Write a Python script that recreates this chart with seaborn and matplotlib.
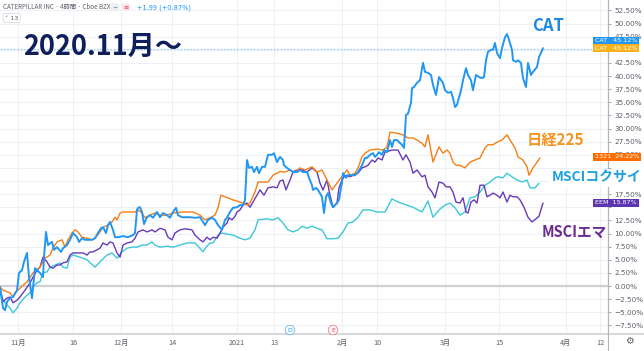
import numpy as np
import pandas as pd
import matplotlib
matplotlib.use("Agg")
import matplotlib.pyplot as plt
import seaborn as sns
from matplotlib.lines import Line2D

# ---------------- data (bar index, % change) ----------------
cat_t = [0,3,5,7,10,13,17,19,22,24,27,29,32,35,37,40,43,44,46,48,52,54,57,61,63,67,70,73,77,79,
         82,85,88,92,95,98,101,103,106,108,110,113,115,118,123,128,133,135,137,138,140,142,144,147,150,153,157,160,163,167,
         170,173,176,178,182,185,190,195,200,205,208,212,215,218,222,225,227,230,233,237,240,243,245,247,249,252,254,257,259,262,
         265,268,272,274,277,280,283,284,287,290,293,297,300,303,307,309,312,313,316,318,322,324,326,328,331,333,337,339,342,343,
         346,348,352,355,358,362,365,367,370,373,375,377,379,382,384,387,390,392,394,397,399,402,404,406,408,411,412,414,417,420,
         423,425,428,431,433,436,439,443,445,448,451,453,455,457,461,463,466,468,471,473,476,479,482,484,486,488,491,493,495,497,
         500,502,505,507,509,512,513,516,518,521,523,526,528,531,533,537,539,543]
cat_v = [-0.2,-4.2,-4.6,-3.0,-2.3,-2.1,-0.8,2.5,3.0,4.6,6.3,1.7,-2.3,3.4,3.0,2.5,1.7,5.5,10.3,7.8,
         8.4,6.9,7.4,6.5,7.2,7.8,8.8,10.1,9.3,8.4,9.1,8.8,8.8,8.8,9.1,10.1,11.0,11.2,10.1,11.6,
         12.2,10.7,9.3,9.3,9.5,9.3,9.7,10.1,14.5,14.9,15.0,14.1,11.8,13.1,13.5,13.0,14.1,13.1,13.9,13.5,
         13.0,14.1,14.9,13.5,13.1,13.1,13.1,13.0,13.1,11.6,12.6,13.0,12.6,11.6,10.7,12.6,13.0,14.1,14.9,15.0,
         15.4,15.4,16.4,24.0,22.5,22.7,21.7,22.7,21.5,22.7,22.7,25.0,25.0,25.3,23.6,24.6,24.0,23.0,22.5,22.1,
         21.7,21.7,22.1,21.7,21.7,20.6,19.2,18.3,18.7,18.3,17.0,13.9,17.0,17.7,15.8,15.0,15.8,16.4,19.8,21.5,
         20.6,21.1,21.1,21.1,21.7,23.0,24.4,24.4,25.0,25.3,24.6,25.0,25.5,25.0,25.9,25.5,27.8,26.5,27.8,27.8,
         27.4,26.9,26.3,32.6,32.8,34.9,37.7,37.9,38.7,39.2,42.5,40.8,40.6,40.2,38.3,36.4,39.8,38.7,37.3,36.8,
         37.0,35.8,34.1,34.5,37.3,39.2,41.5,40.2,39.2,37.3,40.2,39.8,39.6,39.8,43.0,44.6,45.0,45.0,46.3,44.4,
         43.4,45.3,47.4,48.0,46.9,45.0,43.0,42.7,43.0,42.5,39.6,37.9,42.5,40.2,40.8,41.7,43.6,45.3]

nk_t = [0,3,7,10,13,15,20,27,33,40,45,50,53,57,62,65,68,72,75,78,82,87,92,95,100,103,108,112,115,117,
        120,123,130,135,138,142,145,150,155,160,167,173,183,193,200,205,210,215,218,221,225,233,240,247,250,255,258,268,273,280,
        285,290,295,300,305,312,317,322,327,332,337,343,347,350,355,358,362,365,370,377,383,387,390,397,403,408,413,417,422,425,
        428,433,439,443,447,450,453,456,460,465,470,475,480,485,488,493,497,502,507,510,515,518,523,527,529,533,540]
nk_v = [-0.2,-0.8,-1.1,-1.3,-2.1,-1.3,-0.4,0.8,2.5,3.6,5.3,5.9,7.2,8.4,8.8,7.4,8.8,10.1,10.7,10.3,
        9.3,9.1,8.8,9.1,10.3,11.2,11.6,12.2,13.1,12.6,13.9,14.1,14.1,14.1,14.5,13.9,13.0,13.5,13.9,13.5,
        13.5,13.9,14.1,14.1,13.5,12.6,13.0,13.5,14.9,17.3,17.0,16.4,16.0,15.4,15.8,17.9,19.8,19.8,21.1,21.8,
        21.7,22.1,21.7,22.5,22.1,22.7,21.7,22.1,20.2,18.3,19.6,21.1,22.1,21.1,21.5,22.5,24.6,25.3,25.9,26.1,
        25.9,26.5,29.3,29.1,28.8,28.2,28.2,27.8,27.2,26.5,28.8,23.6,26.5,25.3,25.9,25.3,23.6,23.0,23.0,22.5,
        23.6,24.0,24.4,26.3,26.9,26.9,27.4,27.8,28.8,27.8,26.3,24.6,24.0,22.7,21.1,22.5,24.4]

kk_t = [0,3,7,10,13,17,20,25,30,33,37,40,43,47,50,55,60,63,67,70,73,80,87,95,100,107,112,117,122,127,
        132,137,142,147,152,155,160,167,173,180,187,195,199,203,206,210,213,218,222,227,233,240,245,250,255,258,267,273,278,283,
        288,293,298,302,307,312,317,322,327,333,338,343,348,353,358,363,370,377,385,392,398,407,413,422,428,433,439,445,450,455,
        460,465,470,475,480,485,490,495,498,503,507,512,517,522,527,530,535,539]
kk_v = [-0.4,-2.7,-3.6,-4.2,-5.1,-4.2,-3.2,-2.1,-1.3,-0.2,0.6,0.8,2.5,2.7,3.6,4.0,4.4,3.6,3.4,5.5,
        5.9,5.5,5.0,3.6,4.6,5.9,6.3,5.3,6.5,7.2,7.4,7.4,7.8,7.8,8.4,7.8,7.4,7.6,7.4,7.8,
        8.2,8.2,7.4,6.5,7.4,8.2,8.2,9.7,10.1,9.9,9.7,9.1,8.8,9.1,10.7,12.6,12.8,12.6,13.0,12.0,
        10.7,10.3,10.7,11.4,11.0,11.4,11.0,10.7,9.0,9.0,9.1,10.3,12.0,12.2,13.1,14.5,14.5,14.1,14.1,16.6,
        16.0,15.4,15.0,14.1,16.2,13.1,14.5,15.4,15.8,14.9,13.5,14.1,16.8,17.0,17.9,19.2,19.8,20.6,20.8,20.6,
        21.5,20.8,20.2,19.8,20.2,18.7,18.7,19.6]

em_t = [0,3,7,10,13,17,20,25,30,33,37,40,43,47,50,53,57,60,63,67,70,73,78,83,87,90,93,97,100,103,
        107,110,113,117,120,123,127,132,135,138,143,147,152,155,160,165,168,172,175,180,185,192,195,200,203,207,210,213,217,220,
        223,227,229,232,235,237,240,243,247,250,253,257,260,264,268,273,277,280,283,286,290,293,297,302,307,312,317,320,323,327,
        330,333,337,339,342,344,347,350,353,358,362,365,368,372,375,378,382,385,392,398,403,406,410,413,417,422,425,428,432,435,
        439,443,446,450,453,456,460,463,466,468,471,474,477,480,484,487,490,493,497,500,503,507,510,513,517,520,524,528,532,536,
        539,543]
em_v = [-0.8,-3.0,-2.3,-2.1,-3.2,-2.7,-2.1,-0.8,0.6,1.7,3.0,3.6,5.5,4.6,3.6,3.4,4.0,4.0,4.4,4.6,
        5.9,6.3,6.3,6.3,5.9,6.5,6.5,6.9,7.2,8.2,7.8,8.4,8.2,6.3,5.5,7.8,8.2,8.4,9.1,10.3,
        10.7,10.3,10.7,10.3,11.0,10.7,9.3,8.8,10.1,10.7,10.9,10.7,9.7,8.8,8.4,9.3,8.8,9.3,9.1,10.1,
        11.2,12.0,13.0,12.6,13.3,14.1,14.5,15.4,15.8,15.0,16.0,17.3,18.3,17.3,18.7,18.9,18.7,20.0,20.2,18.3,
        20.2,21.7,22.1,22.1,21.7,22.5,21.7,19.6,18.3,20.2,17.3,15.0,15.8,18.7,20.2,20.8,21.1,20.8,21.1,21.5,
        22.5,22.7,23.0,24.0,23.6,24.4,24.0,25.5,25.9,25.9,24.0,25.0,23.6,21.5,22.1,20.8,21.1,18.9,17.9,16.8,
        19.8,19.6,18.9,18.9,17.9,16.0,15.8,16.8,14.1,13.9,16.0,16.4,15.8,19.2,19.2,17.0,17.3,17.7,17.3,16.8,
        17.9,16.0,17.3,17.0,17.0,16.4,15.0,13.1,12.2,12.8,13.3,15.8]

x_tick_pos = [18, 73, 121, 172, 237, 274, 342, 377, 445, 499, 566, 600]
x_tick_lab = ["11月", "16", "12月", "14", "2021", "13", "2月", "10", "3月", "15", "4月", "12"]
y_tick_vals = [-7.5, -5.0, -2.5, 0.0, 2.5, 5.0, 7.5, 10.0, 12.5, 15.0, 17.5, 20.0, 22.5, 25.0,
               27.5, 30.0, 32.5, 35.0, 37.5, 40.0, 42.5, 45.0, 47.5, 50.0, 52.5]
# axis labels that the price boxes / annotation fully cover in the reference
y_hidden = [15.0, 20.0, 22.5, 45.0]
cat_last = 45.12

series_names = ["MSCIコクサイ", "MSCIエマ", "日経225", "CAT"]
series_data = {"CAT": (cat_t, cat_v), "日経225": (nk_t, nk_v),
               "MSCIコクサイ": (kk_t, kk_v), "MSCIエマ": (em_t, em_v)}
for k, (a, b) in series_data.items():
    assert len(a) == len(b), k

df = pd.concat([pd.DataFrame({"t": a, "v": b, "series": k}) for k, (a, b) in series_data.items()],
               ignore_index=True)

# ---------------- styling ----------------
sns.set_theme(style="white")
plt.rcParams["font.family"] = ["DejaVu Sans", "Noto Sans CJK JP"]
JP = ["Noto Sans CJK JP", "DejaVu Sans"]

W, H = 644, 351
fig = plt.figure(figsize=(W / 100, H / 100), dpi=100)
fig.patch.set_facecolor("white")

def fx(x):
    return x / W

def fy(y):
    return 1 - y / H

AX_BOTTOM = 334
AX_RIGHT = 608
ax = fig.add_axes([0, fy(AX_BOTTOM), fx(AX_RIGHT), AX_BOTTOM / H])
ax.set_facecolor("white")

colors = {"CAT": "#2196f3", "日経225": "#f57f17", "MSCIコクサイ": "#3cc8d8", "MSCIエマ": "#673ab7"}
widths = {"CAT": 1.4, "日経225": 1.0, "MSCIコクサイ": 1.0, "MSCIエマ": 1.0}

ax.set_xlim(0, AX_RIGHT)
ax.set_ylim(-9.14, 54.48)

# grid
ax.set_yticks(y_tick_vals)
ax.set_xticks(x_tick_pos)
ax.grid(True, color="#edf0f6", lw=0.8)
ax.axhline(0, color="#cfcfd4", lw=1.6, zorder=1)
ax.axhline(cat_last, color="#90c8f6", lw=0.8, ls=(0, (1.5, 1.5)), zorder=1)

for name in series_names:
    sub = df[df["series"] == name]
    sns.lineplot(data=sub, x="t", y="v", ax=ax, color=colors[name], lw=widths[name],
                 estimator=None, sort=False, legend=False, zorder=3)

ax.set_xlabel("")
ax.set_ylabel("")

# axis ticks/labels
ylabels = ["" if v in y_hidden else ("\u2212" if v < 0 else "") + f"{abs(v):.2f}%" for v in y_tick_vals]
ax.yaxis.tick_right()
ax.set_yticklabels(ylabels)
ax.tick_params(axis="y", right=True, length=2.5, width=0.6, color="#9598a1", pad=2,
               labelsize=5.2, labelcolor="#5d606b")
ax.set_xticklabels(x_tick_lab)
ax.tick_params(axis="x", bottom=False, length=0, pad=3.5, labelsize=5.2, labelcolor="#5d606b")
for lab in ax.get_xticklabels():
    lab.set_fontfamily(JP)
for s in ["top", "left", "bottom"]:
    ax.spines[s].set_visible(False)
ax.spines["right"].set_color("#b2b5be")
ax.spines["right"].set_linewidth(0.8)

# separators
fig.add_artist(Line2D([0, 1], [fy(AX_BOTTOM), fy(AX_BOTTOM)], color="#cfd1d6", lw=1.2))
fig.add_artist(Line2D([fx(AX_RIGHT), fx(AX_RIGHT)], [0, 1], color="#b2b5be", lw=0.8))

# price labels on axis
def price_box(y, text, fc):
    fig.text(fx(595), fy(y), text, fontsize=4.6, color="white", va="center", ha="left",
             bbox=dict(boxstyle="square,pad=0.3", fc=fc, ec="none"), zorder=10)

price_box(41, "CAT   45.12%", "#2196f3")
price_box(48, "CAT   45.12%", "#f9b21b")
price_box(157, "1321  24.22%", "#ff6d00")
price_box(203, "EEM  15.87%", "#5e35b1")

# header
fig.text(fx(3), fy(7), "CATERPILLAR INC · 4時間 · Cboe BZX", fontsize=4.5, color="#5d606b",
         va="center", ha="left", family=JP)
fig.text(fx(115), fy(7), "−", fontsize=4.6, color="#787b86", va="center", ha="center",
         bbox=dict(boxstyle="round,pad=0.2", fc="#eceef2", ec="none"))
fig.text(fx(126), fy(7), "≡", fontsize=4.6, color="#f23645", va="center", ha="center",
         bbox=dict(boxstyle="round,pad=0.15", fc="#fce4ea", ec="none"))
fig.text(fx(137), fy(7.5), "+1.99 (+0.87%)", fontsize=4.8, color="#2196f3", va="center", ha="left")
fig.text(fx(5), fy(18), "˅ 13", fontsize=4.6, color="#5d606b", va="center", ha="left",
         bbox=dict(boxstyle="round,pad=0.3", fc="white", ec="#d1d4dc", lw=0.5))

# D / E markers
fig.text(fx(290), fy(330), "D", fontsize=4.5, color="#2196f3", va="center", ha="center",
         bbox=dict(boxstyle="circle,pad=0.35", fc="white", ec="#64b5f6", lw=0.6))
fig.text(fx(333), fy(330), "E", fontsize=4.5, color="#f23645", va="center", ha="center",
         bbox=dict(boxstyle="circle,pad=0.35", fc="white", ec="#f77c80", lw=0.6))
fig.text(fx(629), fy(341), "⚙", fontsize=7, color="#5d606b", va="center", ha="center")

# annotations
fig.text(fx(23), fy(47), "2020.11月～", fontsize=19.5, fontweight="bold", color="#0f1f5c",
         va="center", ha="left", family=JP)
fig.text(fx(532), fy(26), "CAT", fontsize=12, fontweight="bold", color="#1e88e5",
         va="center", ha="left", family=JP)
fig.text(fx(527), fy(140), "日経225", fontsize=11, fontweight="bold", color="#f7931e",
         va="center", ha="left", family=JP)
fig.text(fx(552), fy(178), "MSCIコクサイ", fontsize=10, fontweight="bold", color="#1ea0e0",
         va="center", ha="left", family=JP, zorder=11,
         bbox=dict(boxstyle="square,pad=0.15", fc="white", ec="none"))
fig.text(fx(542), fy(232), "MSCIエマ", fontsize=10.5, fontweight="bold", color="#6a2c91",
         va="center", ha="left", family=JP)

fig.savefig("out.png", dpi=100, facecolor="white")
